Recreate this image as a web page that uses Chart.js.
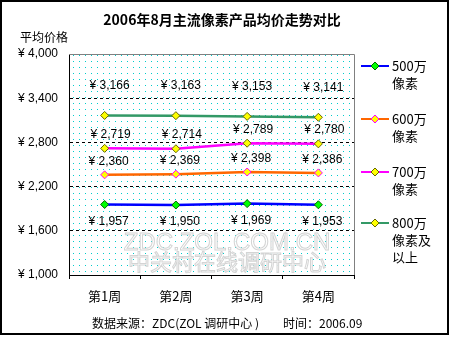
<!DOCTYPE html>
<html>
<head>
<meta charset="utf-8">
<script src="https://cdn.jsdelivr.net/npm/chart.js@4/dist/chart.umd.min.js"></script>
<style>
  body { margin: 0; background: #fff; }
  canvas { display: block; }
</style>
</head>
<body>
<canvas id="myChart" width="450" height="337"></canvas>
<script>
var weeks = ['第1周', '第2周', '第3周', '第4周'];
var seriesNames = [['500万', '像素'], ['600万', '像素'], ['700万', '像素'], ['800万', '像素及', '以上']];
var p500 = [1957, 1950, 1969, 1953];
var p600 = [2360, 2369, 2398, 2386];
var p700 = [2719, 2714, 2789, 2780];
var p800 = [3166, 3163, 3153, 3141];
var yTicks = [1000, 1600, 2200, 2800, 3400, 4000];

var FONT = '"Liberation Sans", "Noto Sans CJK SC", sans-serif';
var CJK = '"Noto Sans CJK SC", "Liberation Sans", sans-serif';

function yen(v) { return '¥ ' + v.toLocaleString('en-US'); }

// label offsets per series (dx, dy from point)
var labelShift = [[4, 17], [4, -13], [6, -14], [5, -30]];
var legendY = [66, 119, 172, 223];

var bgPattern = null;
function getPattern(ctx) {
  if (bgPattern) return bgPattern;
  var c = document.createElement('canvas');
  c.width = 6; c.height = 6;
  var g = c.getContext('2d');
  g.fillStyle = '#fff';
  g.fillRect(0, 0, 6, 6);
  g.fillStyle = '#00CCCC';
  g.fillRect(1, 1, 1, 1);
  bgPattern = ctx.createPattern(c, 'repeat');
  return bgPattern;
}

var decor = {
  id: 'decor',
  beforeDraw: function(chart) {
    var ctx = chart.ctx, a = chart.chartArea;
    ctx.save();
    ctx.fillStyle = '#fff';
    ctx.fillRect(0, 0, chart.width, chart.height);
    ctx.fillStyle = getPattern(ctx);
    ctx.fillRect(a.left, a.top, a.right - a.left, a.bottom - a.top);
    ctx.restore();
  },
  beforeDatasetsDraw: function(chart) {
    var ctx = chart.ctx;
    ctx.save();
    ctx.textAlign = 'center';
    ctx.textBaseline = 'middle';
    ctx.fillStyle = 'rgba(255,255,255,0.85)';
    ctx.strokeStyle = '#d4d4d4';
    ctx.lineWidth = 1;
    ctx.font = '24px ' + FONT;
    ctx.fillText('ZDC.ZOL.COM.CN', 227, 243);
    ctx.strokeText('ZDC.ZOL.COM.CN', 227, 243);
    ctx.font = '22px ' + CJK;
    ctx.fillText('中关村在线调研中心', 227, 262);
    ctx.strokeText('中关村在线调研中心', 227, 262);
    ctx.restore();
  },
  afterDatasetsDraw: function(chart) {
    var ctx = chart.ctx;
    ctx.save();
    ctx.font = '12px ' + FONT;
    ctx.fillStyle = '#000';
    ctx.textAlign = 'center';
    ctx.textBaseline = 'middle';
    chart.data.datasets.forEach(function(ds, i) {
      chart.getDatasetMeta(i).data.forEach(function(pt, j) {
        ctx.fillText(yen(ds.data[j]), pt.x + labelShift[i][0], pt.y + labelShift[i][1]);
      });
    });
    ctx.restore();
  },
  afterDraw: function(chart) {
    var ctx = chart.ctx, a = chart.chartArea;
    ctx.save();
    // plot frame top/right
    ctx.strokeStyle = '#808080';
    ctx.lineWidth = 1;
    ctx.beginPath();
    ctx.moveTo(a.left, a.top + 0.5);
    ctx.lineTo(a.right + 0.5, a.top + 0.5);
    ctx.lineTo(a.right + 0.5, a.bottom);
    ctx.stroke();

    ctx.fillStyle = '#000';
    ctx.textBaseline = 'middle';
    // title
    ctx.textAlign = 'center';
    ctx.font = 'bold 14px ' + CJK;
    ctx.fillText('2006年8月主流像素产品均价走势对比', 222, 20);
    // y axis title
    ctx.textAlign = 'left';
    ctx.font = '12px ' + CJK;
    ctx.fillText('平均价格', 20, 37);
    // footer
    ctx.fillText('数据来源：ZDC(ZOL 调研中心 )', 92, 323);
    ctx.fillText('时间：2006.09', 283, 323);

    // legend
    chart.data.datasets.forEach(function(ds, i) {
      var y = legendY[i];
      ctx.strokeStyle = ds.borderColor;
      ctx.lineWidth = 2;
      ctx.beginPath();
      ctx.moveTo(361, y);
      ctx.lineTo(389, y);
      ctx.stroke();
      ctx.beginPath();
      ctx.moveTo(375, y - 4);
      ctx.lineTo(379, y);
      ctx.lineTo(375, y + 4);
      ctx.lineTo(371, y);
      ctx.closePath();
      ctx.fillStyle = ds.pointBackgroundColor;
      ctx.fill();
      ctx.lineWidth = 1;
      ctx.strokeStyle = ds.pointBorderColor;
      ctx.stroke();
      ctx.fillStyle = '#000';
      ctx.font = '13px ' + CJK;
      seriesNames[i].forEach(function(t, k) {
        ctx.fillText(t, 392, y + k * 17);
      });
    });

    // outer frame
    ctx.strokeStyle = '#000';
    ctx.lineWidth = 2;
    ctx.strokeRect(1, 1, 447, 333);
    ctx.restore();
  }
};

function series(name, data, line, fill, edge) {
  return {
    label: name.join(''),
    data: data,
    borderColor: line,
    borderWidth: 2.5,
    pointStyle: 'rectRot',
    pointRadius: 4,
    pointHoverRadius: 4,
    pointBackgroundColor: fill,
    pointBorderColor: edge,
    pointBorderWidth: 1,
    tension: 0
  };
}

var ctx = document.getElementById('myChart').getContext('2d');
var myChart = new Chart(ctx, {
  type: 'line',
  data: {
    labels: weeks,
    datasets: [
      series(seriesNames[0], p500, '#0000FF', '#00FF00', '#006600'),
      series(seriesNames[1], p600, '#FF6600', '#FFFF00', '#FF00FF'),
      series(seriesNames[2], p700, '#FF00FF', '#FFFF00', '#666600'),
      series(seriesNames[3], p800, '#339966', '#FFFF00', '#666600')
    ]
  },
  options: {
    responsive: false,
    devicePixelRatio: 1,
    animation: false,
    layout: { padding: { left: 0, top: 54, right: 96, bottom: 32 } },
    plugins: {
      legend: { display: false },
      title: { display: false },
      tooltip: { enabled: false }
    },
    scales: {
      x: {
        offset: true,
        afterFit: function(s) { s.height = 30; },
        grid: { offset: true, drawOnChartArea: false, drawTicks: true, tickLength: 4, color: '#000' },
        border: { display: true, color: '#000', width: 1 },
        ticks: { color: '#000', padding: 9, font: { family: CJK, size: 13 } }
      },
      y: {
        min: 1000,
        max: 4000,
        afterFit: function(s) { s.width = 69; },
        afterBuildTicks: function(s) { s.ticks = yTicks.map(function(v) { return { value: v }; }); },
        grid: {
          drawTicks: false,
          color: function(c) {
            var v = c.tick && c.tick.value;
            return (v === 1000 || v === 4000) ? 'rgba(0,0,0,0)' : '#000';
          }
        },
        border: { display: true, color: '#000', width: 1, dash: [3, 3] },
        ticks: {
          color: '#000',
          padding: 11,
          font: { family: FONT, size: 12 },
          callback: function(v) { return yen(v); }
        }
      }
    }
  },
  plugins: [decor]
});
</script>
</body>
</html>
